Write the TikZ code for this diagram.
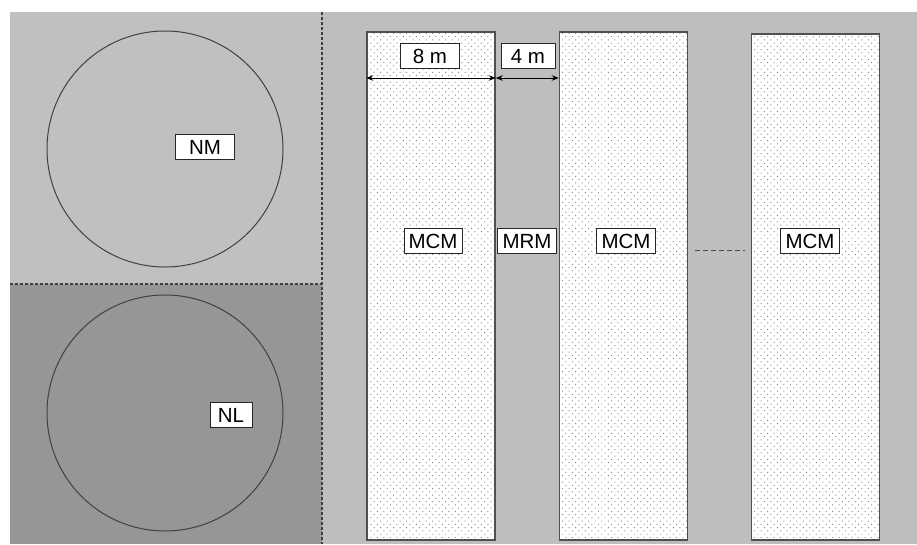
\documentclass[tikz,border=0pt]{standalone}
\usepackage{fontspec}
\setmainfont{Liberation Sans}
\usetikzlibrary{patterns.meta,arrows.meta}
\definecolor{bgA}{HTML}{C0C0C0}
\definecolor{bgB}{HTML}{969696}
\definecolor{bgR}{HTML}{BEBEBE}
\definecolor{edge}{HTML}{505050}
\definecolor{dotc}{HTML}{8C8C8C}
\tikzset{
  lbl/.style={draw=black!85, fill=white, line width=0.9pt, font=\fontsize{20.5}{24}\selectfont,
     text height=14.5pt, text depth=0pt, inner ysep=5.5pt, inner xsep=3pt},
  field/.style={draw=edge, line width=1.5pt, minimum width=128pt, minimum height=508pt, inner sep=0pt,
     preaction={fill=white}, pattern={Dots[distance=4.6pt, radius=0.7pt, angle=45]}, pattern color=dotc},
  ring/.style={circle, draw=black!75, line width=1pt, minimum size=236pt, inner sep=0pt},
  sep/.style={draw=black!75, line width=1.3pt, dash pattern=on 3pt off 2pt},
  dim/.style={black, line width=1pt, {Stealth[length=7pt,width=5.5pt]}-{Stealth[length=7pt,width=5.5pt]}}
}
\begin{document}
\begin{tikzpicture}[x=1pt,y=-1pt]
\useasboundingbox (0,0) rectangle (917,544);
\fill[white] (0,0) rectangle (917,544);
% backgrounds
\fill[bgR] (322,12) rectangle (917,544);
\fill[bgA] (10,12) rectangle (322,284);
\fill[bgB] (10,284) rectangle (322,544);
\coordinate (vt) at (322,12);
\coordinate (vb) at (322,544);
\coordinate (hl) at (10,284);
\coordinate (hr) at (322,284);
\draw[sep] (hl) -- (hr);
\draw[sep] (vt) -- (vb);
% circles
\node[ring] (c1) at (165,149) {};
\node[ring] (c2) at (165,413) {};
\node[lbl, minimum width=59pt] (nm) at (205,147) {NM};
\node[lbl, minimum width=42pt] (nl) at (231,415) {NL};
% fields
\node[field] (r1) at (431,286) {};
\node[field] (r2) at (623.5,286) {};
\node[field, minimum height=506pt] (r3) at (815.5,287) {};
% labels
\node[lbl, minimum width=58pt] (m1) at (433,241) {MCM};
\node[lbl, minimum width=59pt] (mr) at (527,241) {MRM};
\node[lbl, minimum width=59pt] (m2) at (626,241) {MCM};
\node[lbl, minimum width=59pt] (m3) at (810,241) {MCM};
\coordinate (d1) at (695,250);
\coordinate (d2) at (745,250);
\draw[black!70, line width=1pt, dash pattern=on 5pt off 3pt] (d1) -- (d2);
% dimensions
\node[lbl, minimum width=59pt] (w8) at (430,56) {8 m};
\node[lbl, minimum width=54pt] (w4) at (528,56) {4 m};
\coordinate (a0) at (r1.west |- 0,78);
\coordinate (a1) at (r1.east |- 0,78);
\coordinate (a2) at (r2.west |- 0,78);
\draw[dim] (a0) -- (a1);
\draw[dim] (a1) -- (a2);
\end{tikzpicture}
\end{document}
